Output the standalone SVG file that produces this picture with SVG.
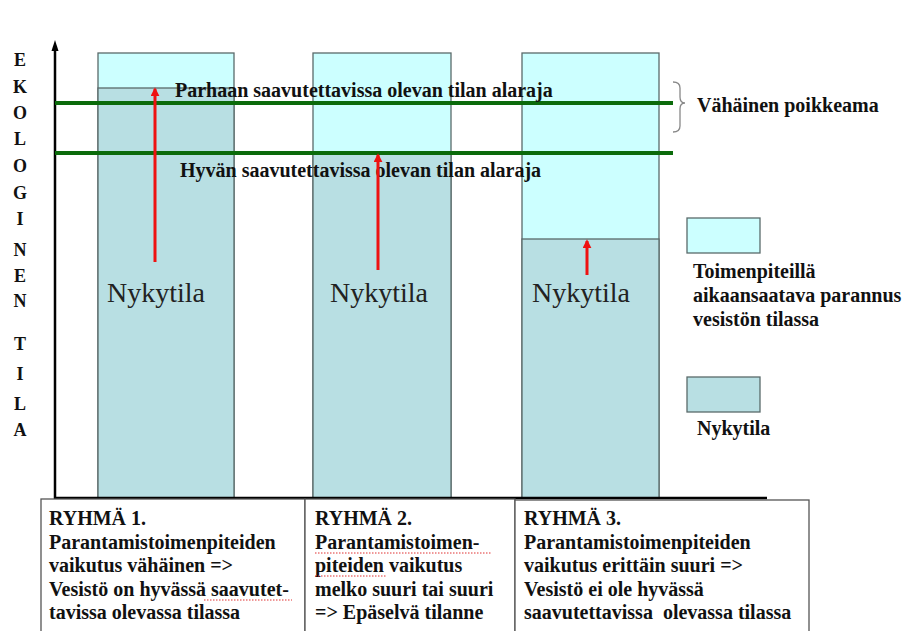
<svg xmlns="http://www.w3.org/2000/svg" width="905" height="631" viewBox="0 0 905 631">
<defs>
<style>
.light{fill:#CCFFFF;stroke:#5a6a6a;stroke-width:1.3}
.dark{fill:#B8DFE3;stroke:#5a6a6a;stroke-width:1.3}
.b{font-family:'Liberation Serif',Tinos,'Times New Roman',Times,'DejaVu Serif',serif;font-weight:bold;font-size:20px;fill:#111}
.ax{font-family:'Liberation Serif',Tinos,'Times New Roman',Times,'DejaVu Serif',serif;font-weight:bold;font-size:18px;fill:#111;text-anchor:middle}
.ny{font-family:'Liberation Serif',Tinos,'Times New Roman',Times,'DejaVu Serif',serif;font-size:28px;fill:#222}
.green{stroke:#0b6b0b;stroke-width:4}
.red{stroke:#ee1111;stroke-width:3;fill:none}
.box{fill:#fff;stroke:#555;stroke-width:1.3}
.sq{stroke:#e03030;stroke-width:1;stroke-dasharray:1.5 1.5;fill:none}
</style>
<marker id="ah" viewBox="0 0 10 10" refX="8" refY="5" markerWidth="3" markerHeight="3" orient="auto">
<path d="M0,0 L10,5 L0,10 z" fill="#ee1111"/>
</marker>
</defs>
<rect width="905" height="631" fill="#fff"/>

<g id="axis-label">
<text class="ax" x="20" y="66">E</text>
<text class="ax" x="20" y="93">K</text>
<text class="ax" x="20" y="119">O</text>
<text class="ax" x="20" y="145">L</text>
<text class="ax" x="20" y="172">O</text>
<text class="ax" x="20" y="199">G</text>
<text class="ax" x="20" y="225">I</text>
<text class="ax" x="20" y="256">N</text>
<text class="ax" x="20" y="282">E</text>
<text class="ax" x="20" y="307">N</text>
<text class="ax" x="20" y="350">T</text>
<text class="ax" x="20" y="380">I</text>
<text class="ax" x="20" y="410">L</text>
<text class="ax" x="20" y="436">A</text>
</g>

<g id="bar1">
<rect class="light" x="98" y="53" width="136" height="445"/>
<rect class="dark" x="98" y="88" width="136" height="410"/>
<text class="ny" x="107" y="302">Nykytila</text>
</g>
<g id="bar2">
<rect class="light" x="313" y="53" width="138" height="445"/>
<rect class="dark" x="313" y="154" width="138" height="344"/>
<text class="ny" x="330" y="302">Nykytila</text>
</g>
<g id="bar3">
<rect class="light" x="522" y="53" width="137" height="445"/>
<rect class="dark" x="522" y="239" width="137" height="259"/>
<text class="ny" x="532" y="302">Nykytila</text>
</g>

<g id="axes">
<line x1="55" y1="50" x2="55" y2="499" stroke="#000" stroke-width="2.5"/>
<path d="M55,40 L51.5,51 L58.5,51 z" fill="#000"/>
<line x1="54" y1="498" x2="767" y2="498" stroke="#000" stroke-width="2.5"/>
</g>

<g id="limits">
<line class="green" x1="55" y1="103" x2="673" y2="103"/>
<line class="green" x1="55" y1="153" x2="673" y2="153"/>
<text class="b" x="175" y="97">Parhaan saavutettavissa olevan tilan alaraja</text>
<text class="b" x="180" y="177">Hyvän saavutettavissa olevan tilan alaraja</text>
</g>

<g id="connectors">
<line class="red" x1="155" y1="262" x2="155" y2="89" marker-end="url(#ah)"/>
<line class="red" x1="378" y1="270" x2="378" y2="155" marker-end="url(#ah)"/>
<line class="red" x1="587" y1="275" x2="587" y2="241" marker-end="url(#ah)"/>
</g>

<g id="deviation">
<path d="M673,82 Q680,82 680,88 L680,97 Q680,103 685,103 Q680,103 680,109 L680,126 Q680,132 673,132" fill="none" stroke="#888" stroke-width="1.3"/>
<text class="b" x="697" y="112">Vähäinen poikkeama</text>
</g>

<g id="legend-improvement">
<rect class="light" x="687" y="218" width="73" height="35"/>
<text class="b" x="693" y="278">Toimenpiteillä</text>
<text class="b" x="693" y="302">aikaansaatava parannus</text>
<text class="b" x="693" y="326">vesistön tilassa</text>
</g>
<g id="legend-current">
<rect class="dark" x="687" y="377" width="73" height="35"/>
<text class="b" x="697" y="435">Nykytila</text>
</g>

<g id="group1">
<rect class="box" x="41" y="499" width="264" height="140"/>
<text class="b" x="49" y="525">RYHMÄ 1.</text>
<text class="b" x="49" y="549">Parantamistoimenpiteiden</text>
<text class="b" x="49" y="572">vaikutus vähäinen =&gt;</text>
<text class="b" x="49" y="596">Vesistö on hyvässä saavutet-</text>
<text class="b" x="49" y="619">tavissa olevassa tilassa</text>
<path class="sq" d="M204,600 L292,600"/>
</g>
<g id="group2">
<rect class="box" x="305" y="499" width="210" height="140"/>
<text class="b" x="315" y="525">RYHMÄ 2.</text>
<text class="b" x="315" y="549">Parantamistoimen-</text>
<text class="b" x="315" y="572">piteiden vaikutus</text>
<text class="b" x="315" y="596">melko suuri tai suuri</text>
<text class="b" x="315" y="619">=&gt; Epäselvä tilanne</text>
<path class="sq" d="M315,553 L492,553"/>
<path class="sq" d="M315,576 L386,576"/>
</g>
<g id="group3">
<rect class="box" x="515" y="500" width="294" height="140"/>
<text class="b" x="524" y="525">RYHMÄ 3.</text>
<text class="b" x="524" y="549">Parantamistoimenpiteiden</text>
<text class="b" x="524" y="572">vaikutus erittäin suuri =&gt;</text>
<text class="b" x="524" y="596">Vesistö ei ole hyvässä</text>
<text class="b" x="524" y="619" xml:space="preserve">saavutettavissa  olevassa tilassa</text>
</g>
</svg>
